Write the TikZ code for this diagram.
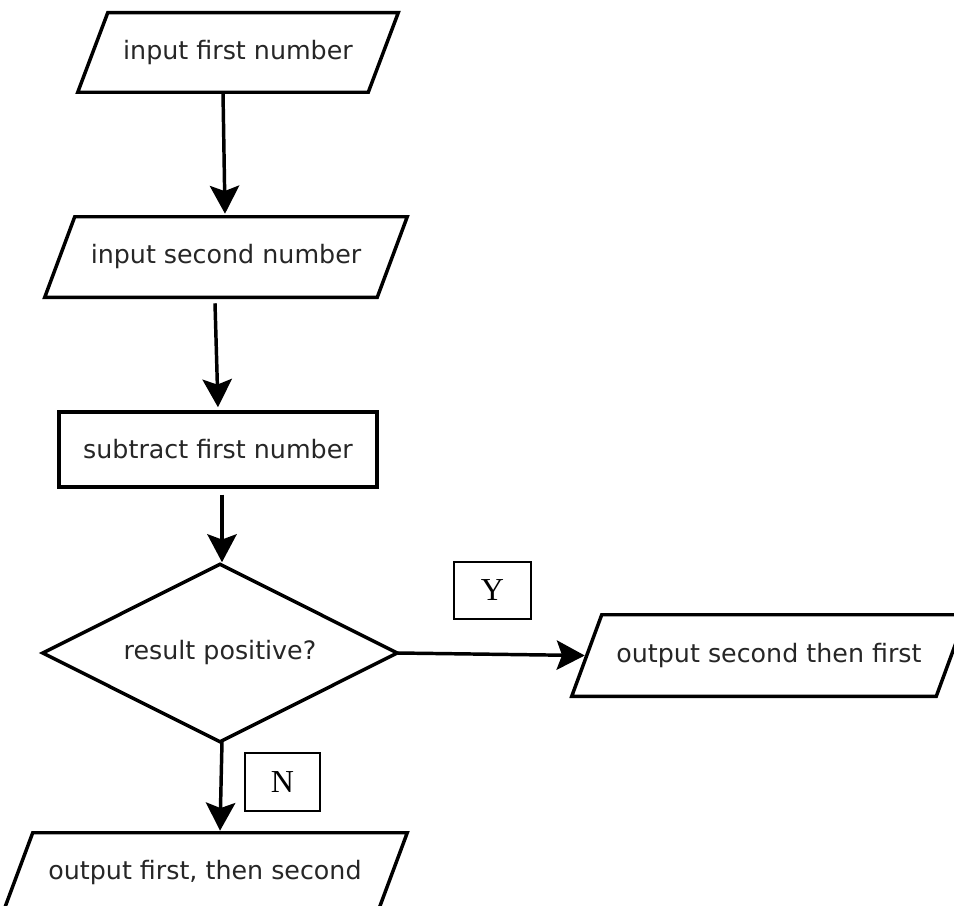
\documentclass[tikz,border=0pt]{standalone}
\usepackage{fontspec}
\usetikzlibrary{arrows.meta}
\newfontfamily\flowfont{DejaVu Sans}
\newfontfamily\tagfont{Liberation Serif}
\definecolor{ink}{gray}{0.15}

% draws the slanted input/output frame around a rectangular node
\newcommand{\ioframe}[1]{%
  \draw[frame] ([shift={(15,0)}]#1.north west) -- ([shift={(15,0)}]#1.north east)
    -- ([shift={(-15,0)}]#1.south east) -- ([shift={(-15,0)}]#1.south west) -- cycle;}
% draws the decision diamond through the four side anchors of a node
\newcommand{\decframe}[1]{%
  \draw[frame] (#1.north) -- (#1.east) -- (#1.south) -- (#1.west) -- cycle;}

\begin{document}
\begin{tikzpicture}[x=0.75pt,y=-0.75pt,
  frame/.style={draw=black, line width=2.6pt, line join=miter},
  label/.style={rectangle, inner sep=0pt, text=ink,
    font=\flowfont\fontsize{19}{23}\selectfont},
  process/.style={label, frame},
  tagbox/.style={rectangle, draw=black, line width=1pt, inner sep=0pt,
    font=\tagfont\fontsize{24}{28}\selectfont},
  flow/.style={draw=black, line width=2.6pt,
    -{Stealth[length=21pt,width=22pt,inset=4pt]}}]

\useasboundingbox (0,0) rectangle (954,906);
\clip (0,0) rectangle (954,906);

% boxes
\node[label, minimum width=290*0.75pt, minimum height=79*0.75pt] (p1) at (238,52.5) {input first number};
\node[label, minimum width=332*0.75pt, minimum height=80*0.75pt] (p2) at (226,257) {input second number};
\node[process, minimum width=318*0.75pt, minimum height=75*0.75pt] (r) at (218,449.5) {subtract first number};
\node[label, minimum width=354*0.75pt, minimum height=177*0.75pt] (d) at (220,653) {result positive?};
\node[label, minimum width=364*0.75pt, minimum height=81*0.75pt] (p3) at (769,655.5) {output second then first};
\node[label, minimum width=374*0.75pt, minimum height=80*0.75pt] (p4) at (205,873) {output first, then second};
\ioframe{p1}
\ioframe{p2}
\ioframe{p3}
\ioframe{p4}
\decframe{d}

% branch labels
\node[tagbox, minimum width=77*0.75pt, minimum height=57*0.75pt] (ty) at (492.5,590.5) {Y};
\node[tagbox, minimum width=75*0.75pt, minimum height=58*0.75pt] (tn) at (282.5,782) {N};

% connectors
\draw[flow] ([shift={(-15,0.5)}]p1.south) -- ([shift={(-1,-3)}]p2.north);
\draw[flow] ([shift={(-11,6)}]p2.south) -- ([shift={(0,-3)}]r.north);
\draw[flow] ([shift={(4,6)}]r.south) -- ([shift={(2,-2)}]d.north);
\draw[flow] (d.east) -- ([shift={(-2,0)}]p3.west);
\draw[flow] ([shift={(2,0)}]d.south) -- ([shift={(15,-2)}]p4.north);
\end{tikzpicture}
\end{document}
